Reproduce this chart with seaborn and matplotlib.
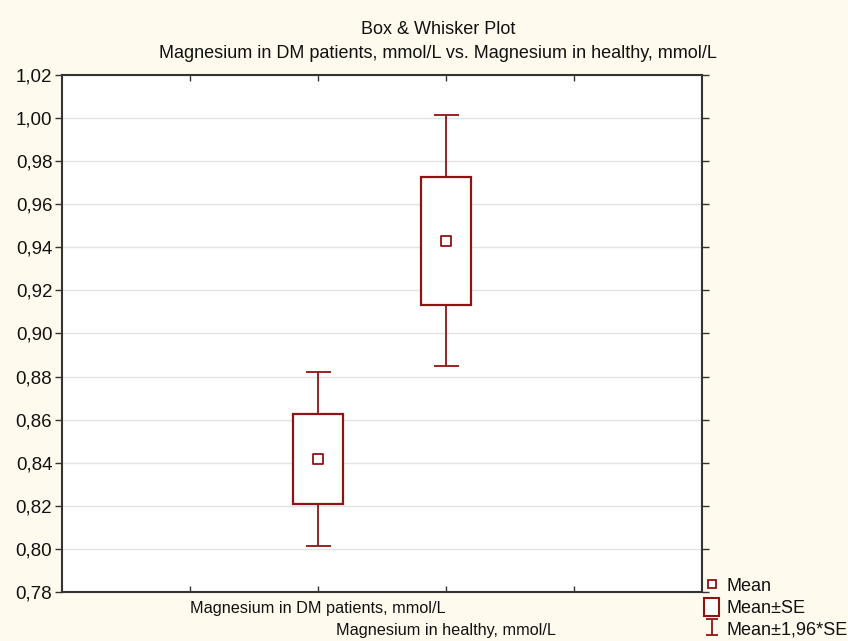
import matplotlib
matplotlib.use("Agg")
import matplotlib.pyplot as plt
from matplotlib.lines import Line2D
from matplotlib.patches import Rectangle
from matplotlib.path import Path
from matplotlib.ticker import FuncFormatter
import numpy as np
import pandas as pd
import seaborn as sns

# ---- data ----
categories = ["Magnesium in DM patients, mmol/L", "Magnesium in healthy, mmol/L"]
means = [0.8417, 0.9430]
se = [0.0207, 0.0297]
ci_mult = 1.96
y_ticks = [0.78, 0.80, 0.82, 0.84, 0.86, 0.88, 0.90, 0.92, 0.94, 0.96, 0.98, 1.00, 1.02]
legend_labels = ["Mean", "Mean±SE", "Mean±1,96*SE"]
title_lines = ["Box & Whisker Plot",
               "Magnesium in DM patients, mmol/L vs. Magnesium in healthy, mmol/L"]

# ---- style ----
sns.set_theme(style="white")
plt.rcParams["font.family"] = ["Liberation Sans", "DejaVu Sans"]

BG = "#FEFAEE"
RED = "#8E1414"
SPINE = "#333333"
TXT = "#111111"

fig = plt.figure(figsize=(8.48, 6.41), dpi=100, facecolor=BG)
ax = fig.add_axes([62 / 848, 1 - 592 / 641, 640 / 848, 517 / 641])
ax.set_facecolor("white")

pos = np.arange(len(categories)) + 2
df = pd.DataFrame({"pos": pos, "mean": means, "se": se})
df["lo"] = df["mean"] - df["se"]
df["ci"] = df["se"] * ci_mult

# whiskers
ax.errorbar(df["pos"], df["mean"], yerr=df["ci"], fmt="none",
            ecolor=RED, elinewidth=1.3, capsize=9, capthick=1.3, zorder=2)
# boxes
ax.bar(df["pos"], 2 * df["se"], bottom=df["lo"], width=0.39,
       facecolor="white", edgecolor=RED, linewidth=1.6, zorder=3)
# means
sns.scatterplot(data=df, x="pos", y="mean", marker="s", s=45,
                facecolor="white", edgecolor=RED, linewidth=1.3, ax=ax, zorder=4)

ax.set_xlim(0, 5)
ax.set_ylim(0.78, 1.02)
ax.set_yticks(y_ticks)
ax.yaxis.set_major_formatter(FuncFormatter(lambda v, p: f"{v:.2f}".replace(".", ",")))
ax.grid(axis="y", color="#E4E4E4", linewidth=1.0)
ax.set_axisbelow(True)

ax.set_xticks([1, 2, 3, 4])
ax.set_xticklabels(["", "", "", ""])
ax.tick_params(axis="x", direction="in", length=4, top=True, bottom=True,
               color=SPINE, width=1.0)
ax.tick_params(axis="y", direction="out", length=5, left=True, right=True,
               color=SPINE, width=1.0, labelsize=13.5, pad=2, labelcolor=TXT)
ax.set_xlabel("")
ax.set_ylabel("")
for s in ax.spines.values():
    s.set_color(SPINE)
    s.set_linewidth(1.5)

# staggered category labels
label_y = [(592 - 609) / 517, (592 - 631) / 517]
trans = ax.get_xaxis_transform()
for p, lab, yy in zip(pos, categories, label_y):
    ax.text(p, yy, lab, transform=trans, ha="center", va="center",
            fontsize=11.7, color=TXT, clip_on=False)

fig.text(438 / 848, 1 - 30 / 641, title_lines[0], ha="center", va="center",
         fontsize=13, color=TXT)
fig.text(438 / 848, 1 - 53 / 641, title_lines[1], ha="center", va="center",
         fontsize=13, color=TXT)

# legend handles
i_path = Path([(-0.7, -1), (0.7, -1), (0, -1), (0, 1), (-0.7, 1), (0.7, 1)],
              [Path.MOVETO, Path.LINETO, Path.MOVETO, Path.LINETO, Path.MOVETO, Path.LINETO])
h_mean = Line2D([], [], linestyle="none", marker="s", markersize=6,
                markerfacecolor="white", markeredgecolor=RED, markeredgewidth=1.3)
h_box = Rectangle((0, 0), 1, 1, facecolor="white", edgecolor=RED, linewidth=1.5)
h_ci = Line2D([], [], linestyle="none", marker=i_path, markersize=12,
              markerfacecolor="none", markeredgecolor=RED, markeredgewidth=1.3)
fig.legend([h_mean, h_box, h_ci], legend_labels, loc="upper left",
           bbox_to_anchor=(704 / 848, 1 - 576 / 641), frameon=False,
           fontsize=13, handlelength=0.85, handleheight=1.2,
           handletextpad=0.4, labelspacing=0.12, borderaxespad=0,
           borderpad=0, labelcolor=TXT)

fig.savefig("out.png", dpi=100, facecolor=BG)
